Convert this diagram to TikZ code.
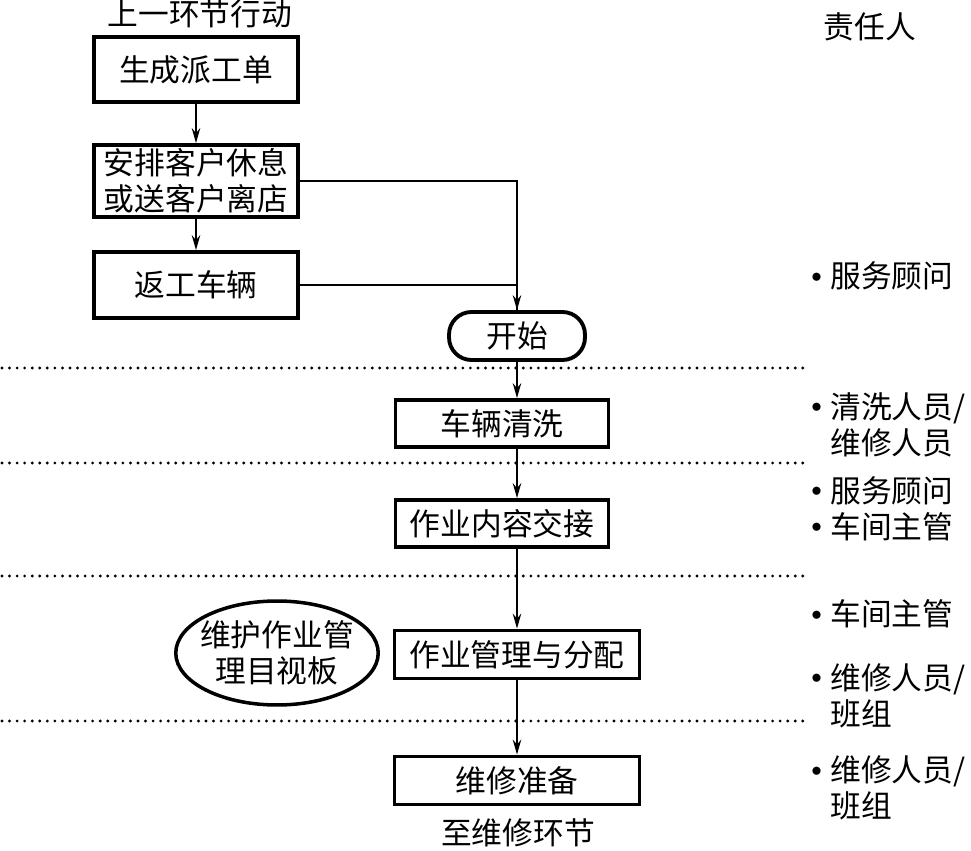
\documentclass[tikz,border=0pt]{standalone}
\usepackage{fontspec}
\setmainfont{Noto Sans CJK SC}
\usepackage{tikz}
\usetikzlibrary{arrows.meta, shapes.geometric, positioning}

\newcommand{\dotitem}{\makebox[0.38cm][l]{\raisebox{3pt}{$\scriptstyle\bullet$}}}
\newcommand{\dotgap}{\hspace*{0.38cm}}

\begin{document}
\begin{tikzpicture}[x=0.02cm, y=-0.02cm, font=\fontsize{17.5}{20.5}\selectfont]
\tikzset{
  box/.style={draw, line width=2.2pt, align=center, inner sep=1pt},
  flow/.style={line width=0.8pt},
  arr/.style={flow, -{Stealth[length=0.3cm, width=0.17cm, inset=0.1cm]}},
  sep/.style={line width=1.8pt, line cap=round, dash pattern=on 0pt off 4.3pt},
  resp/.style={anchor=west, align=left, inner sep=0pt}
}
\useasboundingbox (0,0) rectangle (971,851);

% Previous step
\node (prev) at (200,14) {上一环节行动};
\node[box, minimum width=4.08cm, minimum height=1.30cm] (order) at (196,69.5) {生成派工单};
\node[box, minimum width=4.08cm, minimum height=1.44cm] (guest) at (196,181) {安排客户休息\\或送客户离店};
\node[box, minimum width=4.08cm, minimum height=1.32cm] (rework) at (196,285) {返工车辆};

% Main flow
\node[box, rounded corners=0.45cm, minimum width=2.72cm, minimum height=0.96cm] (start) at (517,336) {开始};
\node[box, minimum width=4.26cm, minimum height=0.94cm] (wash) at (502,423.5) {车辆清洗};
\node[box, minimum width=4.26cm, minimum height=0.94cm] (handover) at (502,523.5) {作业内容交接};
\node[box, minimum width=4.9cm, minimum height=0.96cm] (assign) at (517,654.5) {作业管理与分配};
\node[box, minimum width=4.9cm, minimum height=0.96cm] (prep) at (517,780.5) {维修准备};
\node (next) at (518,833) {至维修环节};

% Board
\node[draw, ellipse, line width=2pt, minimum width=4.05cm, minimum height=2.08cm,
      inner xsep=-8pt, inner ysep=0pt, align=center] (board) at (277,653) {维护作业管\\理目视板};

% Connectors
\draw[arr] (order.south) -- (guest.north);
\draw[arr] (guest.south) -- (rework.north);
\draw[flow] (guest.east) -| (start.north);
\draw[arr] (rework.east) -| (start.north);
\draw[arr] (start.south) -- (start.south |- wash.north);
\draw[arr] (start.south |- wash.south) -- (start.south |- handover.north);
\draw[arr] (start.south |- handover.south) -- (start.south |- assign.north);
\draw[arr] (start.south |- assign.south) -- (start.south |- prep.north);

% Separators
\draw[sep] (2,368) -- (805,368);
\draw[sep] (2,463) -- (805,463);
\draw[sep] (2,576) -- (805,576);
\draw[sep] (2,721) -- (805,721);

% Responsible persons
\node (head) at (870,27) {责任人};
\node[resp] (r1) at (811,276) {\dotitem 服务顾问};
\node[resp] (r2) at (811,424.5) {\dotitem 清洗人员/\\\dotgap 维修人员};
\node[resp] (r3) at (811,508.5) {\dotitem 服务顾问\\\dotitem 车间主管};
\node[resp] (r4) at (811,614) {\dotitem 车间主管};
\node[resp] (r5) at (811,695.5) {\dotitem 维修人员/\\\dotgap 班组};
\node[resp] (r6) at (811,788) {\dotitem 维修人员/\\\dotgap 班组};

\end{tikzpicture}
\end{document}
